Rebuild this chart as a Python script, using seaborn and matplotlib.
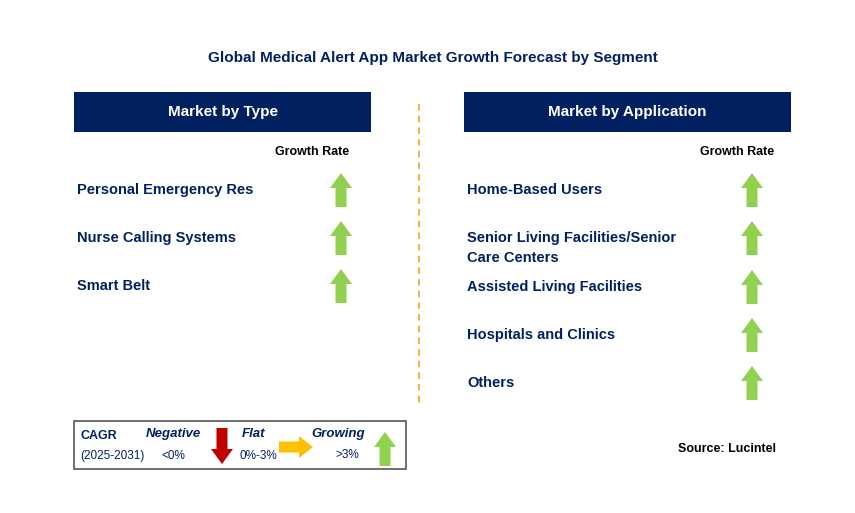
import matplotlib
matplotlib.use("Agg")
import matplotlib.pyplot as plt
import seaborn as sns
from matplotlib.patches import Rectangle, FancyArrow

sns.set_theme(style="white", font="Liberation Sans")

title = "Global Medical Alert App Market Growth Forecast by Segment"
type_labels = ["Personal Emergency Res", "Nurse Calling Systems", "Smart Belt"]
type_growth = ["up", "up", "up"]
app_labels = ["Home-Based Users", "Senior Living Facilities/Senior\nCare Centers",
              "Assisted Living Facilities", "Hospitals and Clinics", "Others"]
app_growth = ["up", "up", "up", "up", "up"]

NAVY = "#002060"
GREEN = "#92D050"
RED = "#C00000"
AMBER = "#FFC000"

fig = plt.figure(figsize=(8.55, 5.13), dpi=100)
ax = fig.add_axes([0, 0, 1, 1])
ax.set_xlim(0, 855)
ax.set_ylim(513, 0)
ax.axis("off")


def up_arrow(x, ycenter, color=GREEN):
    ax.add_patch(FancyArrow(x, ycenter + 17, 0, -34, width=11, head_width=22,
                            head_length=15, length_includes_head=True,
                            color=color, lw=0))


ax.text(433, 58, title, ha="center", va="center", fontsize=11, fontweight="bold", color=NAVY)

for x0, w, head in [(74, 297, "Market by Type"), (464, 327, "Market by Application")]:
    ax.add_patch(Rectangle((x0, 92), w, 40, color=NAVY, lw=0))
    ax.text(x0 + w / 2, 112, head, ha="center", va="center", fontsize=11,
            fontweight="bold", color="white")

ax.text(312, 152, "Growth Rate", ha="center", va="center", fontsize=9, fontweight="bold", color="black")
ax.text(737, 152, "Growth Rate", ha="center", va="center", fontsize=9, fontweight="bold", color="black")

ax.plot([419, 419], [104, 405], ls=(0, (4, 3)), color="#F5A623", lw=1.2)

for i, (lab, g) in enumerate(zip(type_labels, type_growth)):
    y = 190 + 48 * i
    ax.text(77, y, lab, ha="left", va="center", fontsize=10.5, fontweight="bold", color=NAVY)
    up_arrow(341, y)

app_y = [190, 238, 287, 335, 383]
for y, lab, g in zip(app_y, app_labels, app_growth):
    ty = y + 10 if "\n" in lab else y
    ax.text(467, ty, lab, ha="left", va="center", fontsize=10.5, fontweight="bold",
            color=NAVY, linespacing=1.5)
    up_arrow(752, y)

# legend box
ax.add_patch(Rectangle((74, 421), 332, 48, fill=False, ec="#555555", lw=1.2))
ax.text(80, 436, "CAGR", fontsize=9, fontweight="bold", color=NAVY, va="center")
ax.text(80, 456, "(2025-2031)", fontsize=8.5, color=NAVY, va="center")
ax.text(173, 434, "Negative", fontsize=9.5, fontweight="bold", style="italic", color=NAVY, ha="center", va="center")
ax.text(173, 456, "<0%", fontsize=8.5, color=NAVY, ha="center", va="center")
ax.add_patch(FancyArrow(222, 428, 0, 36, width=11, head_width=22, head_length=15,
                        length_includes_head=True, color=RED, lw=0))
ax.text(254, 434, "Flat", fontsize=9.5, fontweight="bold", style="italic", color=NAVY, ha="center", va="center")
ax.text(258, 456, "0%-3%", fontsize=8.5, color=NAVY, ha="center", va="center")
ax.add_patch(FancyArrow(279, 447, 34, 0, width=11, head_width=22, head_length=14,
                        length_includes_head=True, color=AMBER, lw=0))
ax.text(338, 434, "Growing", fontsize=9.5, fontweight="bold", style="italic", color=NAVY, ha="center", va="center")
ax.text(347, 455, ">3%", fontsize=8.5, color=NAVY, ha="center", va="center")
up_arrow(385, 449)

ax.text(776, 449, "Source: Lucintel", fontsize=9, fontweight="bold", color="black", ha="right", va="center")

fig.savefig("out.png", dpi=100)
